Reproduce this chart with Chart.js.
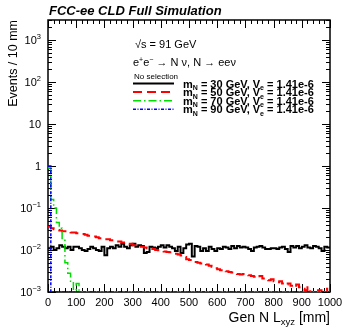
<!DOCTYPE html>
<html>
<head>
<meta charset="utf-8">
<script src="https://cdn.jsdelivr.net/npm/chart.js@4.4.1/dist/chart.umd.min.js"></script>
<style>
  html, body { margin: 0; padding: 0; background: #fff; }
  #wrap { width: 343px; height: 328px; }
</style>
</head>
<body>
<div id="wrap"><canvas id="lxyzChart" width="343" height="328"></canvas></div>
<script>
// bins: 10 mm wide, 0 - 1000 mm
const binWidth = 10
const nBins = 100
const yMin = 1e-3
const yMax = 3000

// m_N = 30 GeV (black, solid)
const mass30 = [
    0.011, 0.012, 0.010, 0.011, 0.013, 0.012, 0.011, 0.012, 0.010, 0.012,
    0.012, 0.011, 0.010, 0.0095, 0.0105, 0.012, 0.011, 0.010, 0.0095, 0.012,
    0.0075, 0.011, 0.012, 0.011, 0.013, 0.012, 0.014, 0.012, 0.011, 0.013,
    0.014, 0.012, 0.013, 0.0125, 0.0085, 0.009, 0.012, 0.0115, 0.011, 0.012,
    0.013, 0.0115, 0.013, 0.012, 0.011, 0.0095, 0.012, 0.0085, 0.011, 0.0135,
    0.014, 0.007, 0.0125, 0.012, 0.0095, 0.011, 0.0095, 0.012, 0.0105, 0.0095,
    0.011, 0.0105, 0.012, 0.0115, 0.0105, 0.0125, 0.011, 0.0125, 0.0115, 0.012,
    0.0115, 0.0105, 0.0095, 0.0115, 0.012, 0.0125, 0.0115, 0.0105, 0.0105, 0.011,
    0.011, 0.0105, 0.0115, 0.012, 0.0105, 0.009, 0.0125, 0.0115, 0.0125, 0.011,
    0.012, 0.013, 0.0115, 0.011, 0.0125, 0.012, 0.011, 0.0095, 0.012, 0.0115
]
// m_N = 50 GeV (red, dashed)
const mass50 = [
    0.036, 0.033, 0.031, 0.030, 0.029, 0.028, 0.028, 0.027, 0.026, 0.026,
    0.025, 0.024, 0.024, 0.023, 0.022, 0.021, 0.021, 0.020, 0.019, 0.019,
    0.018, 0.018, 0.017, 0.017, 0.016, 0.016, 0.015, 0.015, 0.014, 0.014,
    0.013, 0.013, 0.012, 0.012, 0.0115, 0.011, 0.0108, 0.0105, 0.0100, 0.0098,
    0.0095, 0.0092, 0.0090, 0.0088, 0.0085, 0.0082, 0.0078, 0.0074, 0.0068, 0.0060,
    0.0058, 0.0056, 0.0052, 0.0050, 0.0048, 0.0049, 0.0045, 0.0042, 0.0040, 0.0037,
    0.0035, 0.0033, 0.0034, 0.0031, 0.0030, 0.0029, 0.0028, 0.0027, 0.0026, 0.0027,
    0.0026, 0.0025, 0.0024, 0.0023, 0.0022, 0.0024, 0.0021, 0.0020, 0.0019, 0.0020,
    0.0018, 0.0017, 0.0018, 0.0016, 0.0015, 0.0016, 0.0014, 0.0013, 0.0015, 0.0013,
    0.0012, 0.0011, 0.0013, 0.0010, 0.0009, 0.0011, 0.0011, 0.0010, 0.0012, 0.0010
]
// m_N = 70 GeV (green, dash-dot), empty after 110 mm
const mass70 = [
    0.9, 0.16, 0.10, 0.045, 0.033, 0.017, 0.005, 0.0028, 0.0018, 0.0011,
    0.0016, 0, 0, 0, 0, 0, 0, 0, 0, 0,
    0, 0, 0, 0, 0, 0, 0, 0, 0, 0, 0, 0, 0, 0, 0, 0, 0, 0, 0, 0,
    0, 0, 0, 0, 0, 0, 0, 0, 0, 0, 0, 0, 0, 0, 0, 0, 0, 0, 0, 0,
    0, 0, 0, 0, 0, 0, 0, 0, 0, 0, 0, 0, 0, 0, 0, 0, 0, 0, 0, 0,
    0, 0, 0, 0, 0, 0, 0, 0, 0, 0, 0, 0, 0, 0, 0, 0, 0, 0, 0, 0
]
// m_N = 90 GeV (blue, dotted), everything in first bin
const mass90 = [
    1.0, 0, 0, 0, 0, 0, 0, 0, 0, 0,
    0, 0, 0, 0, 0, 0, 0, 0, 0, 0, 0, 0, 0, 0, 0, 0, 0, 0, 0, 0,
    0, 0, 0, 0, 0, 0, 0, 0, 0, 0, 0, 0, 0, 0, 0, 0, 0, 0, 0, 0,
    0, 0, 0, 0, 0, 0, 0, 0, 0, 0, 0, 0, 0, 0, 0, 0, 0, 0, 0, 0,
    0, 0, 0, 0, 0, 0, 0, 0, 0, 0, 0, 0, 0, 0, 0, 0, 0, 0, 0, 0,
    0, 0, 0, 0, 0, 0, 0, 0, 0, 0
]

const legendMasses = ['30', '50', '70', '90']
const legendCoupling = '1.41e-6'

const xTickValues = [0, 100, 200, 300, 400, 500, 600, 700, 800, 900, 1000]
const xTickLabels = ['0', '100', '200', '300', '400', '500', '600', '700', '800', '900', '1000']
const yTickValues = [1e-3, 1e-2, 1e-1, 1, 10, 100, 1000]
const yTickBase = ['10', '10', '10', '1', '10', '10', '10']
const yTickExp = ['\u22123', '\u22122', '\u22121', '', '', '2', '3']

const FONT = '"Liberation Sans", Arial, Helvetica, sans-serif'

const SERIES = [
    { data: mass30, color: '#000000', width: 2, dash: [] },
    { data: mass50, color: '#ff0000', width: 2, dash: [9, 5] },
    { data: mass70, color: '#00dd00', width: 1.5, dash: [8, 3, 1.5, 3] },
    { data: mass90, color: '#0000ff', width: 1.5, dash: [3, 1.5, 1, 1.5] }
]

// step histogram: point at every left bin edge plus the final right edge.
// empty bins sit on the bottom of the log axis (like ROOT does)
function toSteps(values) {
    const pts = values.map((v, i) => ({ x: i * binWidth, y: v > 0 ? v : yMin }))
    pts.push({ x: nBins * binWidth, y: pts[pts.length - 1].y })
    return pts
}

// draw text pieces with sub/superscripts; returns width
function richText(ctx, parts, x, y, align) {
    let total = 0
    parts.forEach(p => {
        ctx.font = `${p.weight || 'normal'} ${p.size}px ${FONT}`
        p.w = ctx.measureText(p.t).width
        total += p.w
    })
    let cx = align === 'right' ? x - total : align === 'center' ? x - total / 2 : x
    ctx.textAlign = 'left'
    ctx.textBaseline = 'alphabetic'
    parts.forEach(p => {
        ctx.font = `${p.weight || 'normal'} ${p.size}px ${FONT}`
        ctx.fillText(p.t, cx, y + (p.dy || 0))
        cx += p.w
    })
    return total
}

const framePlugin = {
    id: 'framePlugin',
    // frame and ticks under the histograms, like ROOT
    beforeDatasetsDraw(chart) {
        const { ctx, chartArea: a } = chart
        const xs = chart.scales.x
        const ys = chart.scales.y
        ctx.save()
        ctx.strokeStyle = '#000'

        ctx.lineWidth = 1.5
        ctx.strokeRect(a.left, a.top, a.right - a.left, a.bottom - a.top)

        // x ticks (bottom and top), inward
        ctx.lineWidth = 1
        ctx.beginPath()
        for (let v = 0; v <= 1000; v += 20) {
            const px = Math.round(xs.getPixelForValue(v)) + 0.5
            const len = v % 100 === 0 ? 8 : 4
            ctx.moveTo(px, a.bottom); ctx.lineTo(px, a.bottom - len)
            ctx.moveTo(px, a.top); ctx.lineTo(px, a.top + len)
        }
        // y ticks (left and right), log minors
        for (let e = -3; e <= 3; e++) {
            for (let m = 1; m <= 9; m++) {
                const v = m * Math.pow(10, e)
                if (v > ys.max) continue
                const py = Math.round(ys.getPixelForValue(v)) + 0.5
                const len = m === 1 ? 8 : 4
                ctx.moveTo(a.left, py); ctx.lineTo(a.left + len, py)
                ctx.moveTo(a.right, py); ctx.lineTo(a.right - len, py)
            }
        }
        ctx.stroke()
        ctx.restore()
    },
    afterDatasetsDraw(chart) {
        const { ctx, chartArea: a } = chart
        const xs = chart.scales.x
        const ys = chart.scales.y
        ctx.save()
        ctx.fillStyle = '#000'

        // x tick labels
        xTickValues.forEach((v, i) => {
            richText(ctx, [{ t: xTickLabels[i], size: 11 }], xs.getPixelForValue(v), a.bottom + 14, 'center')
        })
        // y tick labels
        yTickValues.forEach((v, i) => {
            const py = ys.getPixelForValue(v)
            const parts = [{ t: yTickBase[i], size: 11 }]
            if (yTickExp[i]) parts.push({ t: yTickExp[i], size: 7.5, dy: -5 })
            richText(ctx, parts, a.left - 7, py + 4, 'right')
        })

        // axis titles
        richText(ctx, [
            { t: 'Gen N L', size: 14 },
            { t: 'xyz', size: 9.5, dy: 3 },
            { t: ' [mm]', size: 14 }
        ], a.right, 322, 'right')

        ctx.save()
        ctx.translate(17, a.top)
        ctx.rotate(-Math.PI / 2)
        richText(ctx, [{ t: 'Events / 10 mm', size: 12.5 }], 0, 0, 'right')
        ctx.restore()

        // title
        richText(ctx, [{ t: 'FCC-ee CLD Full Simulation', size: 13, weight: 'italic bold' }], a.left + 1, 15, 'left')

        // annotations
        richText(ctx, [{ t: '\u221As = 91 GeV', size: 11 }], 135, 48, 'left')
        richText(ctx, [
            { t: 'e', size: 11 }, { t: '+', size: 7, dy: -4 },
            { t: 'e', size: 11 }, { t: '\u2212', size: 7, dy: -4 },
            { t: ' \u2192 N \u03BD, N \u2192 ee\u03BD', size: 11 }
        ], 133, 66, 'left')
        richText(ctx, [{ t: 'No selection', size: 8 }], 134, 79, 'left')

        // legend rows
        legendMasses.forEach((m, i) => {
            const by = 87.5 + i * 8.6
            const s = SERIES[i]
            ctx.save()
            ctx.strokeStyle = s.color
            ctx.lineWidth = s.width
            ctx.setLineDash(s.dash)
            ctx.beginPath()
            ctx.moveTo(133, by - 4)
            ctx.lineTo(174, by - 4)
            ctx.stroke()
            ctx.restore()
            richText(ctx, [
                { t: 'm', size: 11, weight: 'bold' },
                { t: 'N', size: 7, weight: 'bold', dy: 2.5 },
                { t: ' = ' + m + ' GeV, V', size: 11, weight: 'bold' },
                { t: 'e', size: 7, weight: 'bold', dy: 2.5 },
                { t: ' = ' + legendCoupling, size: 11, weight: 'bold' }
            ], 183, by, 'left')
        })
        ctx.restore()
    }
}

const chart = new Chart(document.getElementById('lxyzChart').getContext('2d'), {
    type: 'line',
    data: {
        datasets: SERIES.map((s, i) => ({
            label: 'mN ' + legendMasses[i],
            data: toSteps(s.data),
            borderColor: s.color,
            borderWidth: s.width,
            borderDash: s.dash,
            stepped: true,
            pointRadius: 0,
            fill: false,
            order: SERIES.length - i
        }))
    },
    options: {
        responsive: false,
        animation: false,
        devicePixelRatio: 1,
        layout: { padding: { left: 48, right: 13, top: 20, bottom: 36 } },
        scales: {
            x: { type: 'linear', min: 0, max: 1000, display: false },
            y: { type: 'logarithmic', min: yMin, max: yMax, display: false }
        },
        plugins: {
            legend: { display: false },
            tooltip: { enabled: false },
            title: { display: false }
        }
    },
    plugins: [framePlugin]
})
</script>
</body>
</html>
